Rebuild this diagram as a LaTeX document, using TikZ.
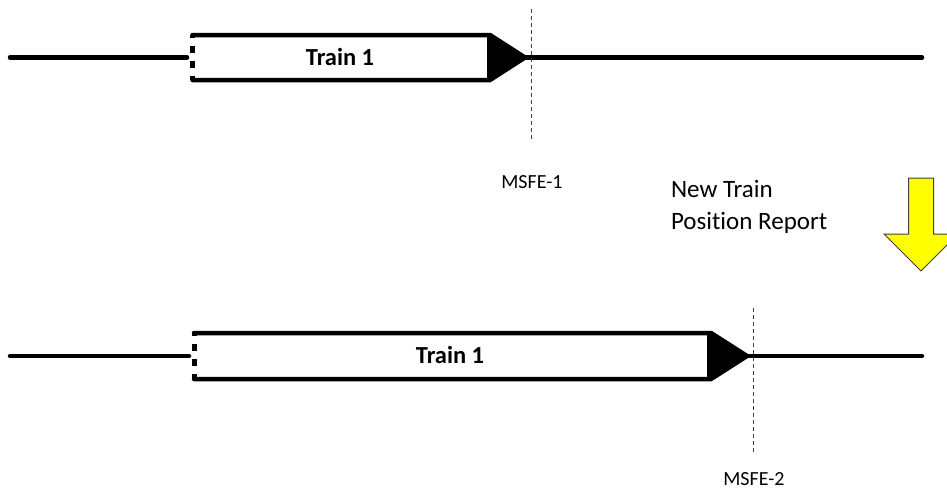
\documentclass[tikz,border=0pt]{standalone}
\usepackage{fontspec}
\setmainfont{Carlito}[Ligatures=CommonOff]
\usepackage{tikz}

\begin{document}
\begin{tikzpicture}[x=1pt,y=-1pt,line cap=rect]
	\def\trainfontA#1{{\bfseries #1}} % train label
	\def\trainfontB#1{{\mdseries #1}}
	\definecolor{custcol_0_0_0}{RGB}{0, 0, 0}
	\definecolor{custcol_40_40_40}{RGB}{64, 64, 64}
	\definecolor{custcol_ff_ff_0}{RGB}{255, 255, 0}
	\definecolor{custcol_ff_ff_ff}{RGB}{255, 255, 255}
	\clip (0.0,0.0) rectangle (947.0,490.0);
	% before the report
	\draw [line width=4.5pt, line cap=round, custcol_0_0_0 ]  (10.0,57.5) -- (187.0,57.5) ;
	\draw [line width=4.5pt, line cap=round, custcol_0_0_0 ]  (526.0,57.5) -- (922.0,57.5) ;
	\fill [custcol_ff_ff_ff ]  (192.5,35.0) rectangle (487.0,80.0) ;
	\fill [custcol_0_0_0 ]  (487.0,35.0) -- (490.0,35.0) -- (525.0,57.5) -- (490.0,80.0) -- (487.0,80.0) -- cycle ;
	\draw [line width=4.5pt, line cap=round, line join=miter, custcol_0_0_0 ]  (192.5,35.0) -- (490.0,35.0) -- (525.0,57.5) -- (490.0,80.0) -- (192.5,80.0) ;
	\draw [line width=1.0pt, custcol_0_0_0 ]  (487.0,35.0) -- (487.0,80.0) ;
	\draw [line width=5.0pt, line cap=butt, dash pattern=on 7pt off 8pt, dash phase=4pt, custcol_0_0_0 ]  (192.5,35.0) -- (192.5,80.0) ;
	\trainfontA{\fontsize{24.5pt}{24.5pt}\selectfont\node[inner sep=0, outer sep=0, custcol_0_0_0, anchor=base] (trainA) at  (340.0,65.0)  {Train 1};}
	\draw [line width=1.0pt, line cap=butt, dash pattern=on 4pt off 3pt, custcol_40_40_40 ]  (531.0,9.0) -- (531.0,140.0) ;
	\trainfontB{\fontsize{20pt}{20pt}\selectfont\node[inner sep=0, outer sep=0, custcol_0_0_0, anchor=base] (msfeA) at  (532.0,188.0)  {MSFE-1};}
	% the report
	\trainfontB{\fontsize{25pt}{25pt}\selectfont\node[inner sep=0, outer sep=0, custcol_0_0_0, anchor=base west] (reportA) at  (671.0,197.0)  {New Train};}
	\trainfontB{\fontsize{25pt}{25pt}\selectfont\node[inner sep=0, outer sep=0, custcol_0_0_0, anchor=base west] (reportB) at  (671.0,229.0)  {Position Report};}
	\filldraw [line width=1.0pt, line join=miter, fill=custcol_ff_ff_0, draw=custcol_40_40_40 ]  (908.5,178.0) -- (933.5,178.0) -- (933.5,234.0) -- (958.0,234.0) -- (921.0,271.0) -- (884.0,234.0) -- (908.5,234.0) -- cycle ;
	% after the report
	\draw [line width=4.5pt, line cap=round, custcol_0_0_0 ]  (10.0,356.0) -- (189.0,356.0) ;
	\draw [line width=4.5pt, line cap=round, custcol_0_0_0 ]  (748.0,356.0) -- (922.0,356.0) ;
	\fill [custcol_ff_ff_ff ]  (194.0,333.0) rectangle (707.0,379.0) ;
	\fill [custcol_0_0_0 ]  (707.0,333.0) -- (711.0,333.0) -- (747.0,356.0) -- (711.0,379.0) -- (707.0,379.0) -- cycle ;
	\draw [line width=4.5pt, line cap=round, line join=miter, custcol_0_0_0 ]  (194.0,333.0) -- (711.0,333.0) -- (747.0,356.0) -- (711.0,379.0) -- (194.0,379.0) ;
	\draw [line width=1.0pt, custcol_0_0_0 ]  (707.0,333.0) -- (707.0,379.0) ;
	\draw [line width=5.0pt, line cap=butt, dash pattern=on 7pt off 8pt, dash phase=4pt, custcol_0_0_0 ]  (194.0,333.0) -- (194.0,379.0) ;
	\trainfontA{\fontsize{24.5pt}{24.5pt}\selectfont\node[inner sep=0, outer sep=0, custcol_0_0_0, anchor=base] (trainB) at  (450.0,363.5)  {Train 1};}
	\draw [line width=1.0pt, line cap=butt, dash pattern=on 4pt off 3pt, custcol_40_40_40 ]  (753.0,308.0) -- (753.0,453.0) ;
	\trainfontB{\fontsize{20pt}{20pt}\selectfont\node[inner sep=0, outer sep=0, custcol_0_0_0, anchor=base] (msfeB) at  (754.0,485.0)  {MSFE-2};}
\end{tikzpicture}
\end{document}
